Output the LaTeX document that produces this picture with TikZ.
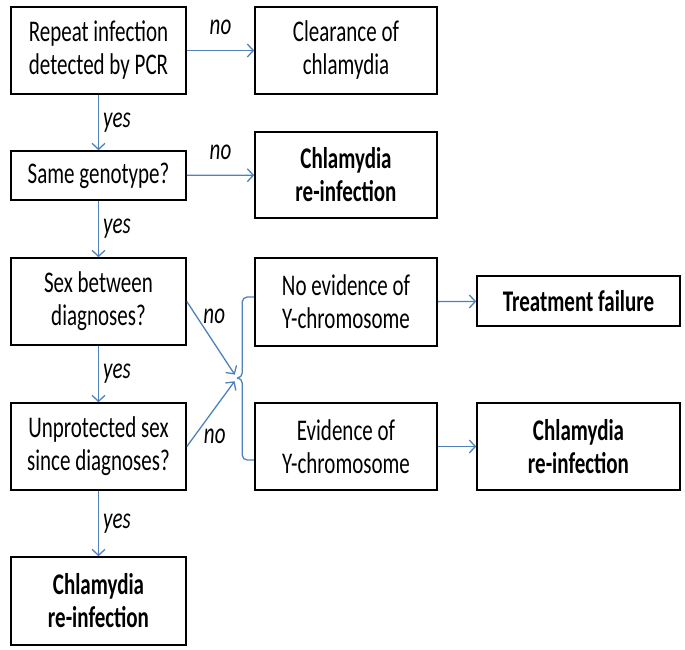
\documentclass[tikz,border=0pt]{standalone}
\usepackage{fontspec}
\setmainfont{Carlito}[FakeStretch=0.70]
\usetikzlibrary{arrows.meta,positioning}
\definecolor{flowblue}{RGB}{79,129,189}

\begin{document}
\begin{tikzpicture}[x=1pt,y=-1pt,
    txt/.style={font=\fontsize{30}{33}\selectfont},
    flow/.style={draw=flowblue,line width=1.3pt,-{Straight Barb[length=6pt,width=13pt]}},
    brace/.style={draw=flowblue,line width=1.3pt,rounded corners=5pt}]

  \useasboundingbox (0,0) rectangle (685,650);

  \begin{scope}[every node/.style={draw,line width=1.6pt,inner sep=0pt,align=center,txt}]
    \node[minimum width=175pt,minimum height=87pt] (repeat) at (98.5,50.5)  {Repeat infection\\detected by PCR};
    \node[minimum width=175pt,minimum height=49pt] (same)   at (98.5,175.5) {Same genotype?};
    \node[minimum width=175pt,minimum height=87pt] (sex)    at (98.5,301.5) {Sex between\\diagnoses?};
    \node[minimum width=175pt,minimum height=87pt] (unprot) at (98.5,446.5) {Unprotected sex\\since diagnoses?};
    \node[minimum width=175pt,minimum height=88pt,font=\fontsize{30}{33}\selectfont\bfseries] (reinfA) at (98.5,601) {Chlamydia\\re-infection};

    \node[minimum width=182pt,minimum height=87pt] (clear)  at (346,50.5)  {Clearance of\\chlamydia};
    \node[minimum width=182pt,minimum height=86pt,font=\fontsize{30}{33}\selectfont\bfseries] (reinfB) at (346,175) {Chlamydia\\re-infection};
    \node[minimum width=182pt,minimum height=88pt] (noev)   at (346,302)   {No evidence of\\Y-chromosome};
    \node[minimum width=182pt,minimum height=87pt] (evid)   at (346,446.5) {Evidence of\\Y-chromosome};

    \node[minimum width=203pt,minimum height=50pt,font=\fontsize{30}{33}\selectfont\bfseries] (fail)   at (578.5,301)   {Treatment failure};
    \node[minimum width=203pt,minimum height=87pt,font=\fontsize{30}{33}\selectfont\bfseries] (reinfC) at (578.5,446.5) {Chlamydia\\re-infection};
  \end{scope}

  \coordinate (tip) at (237,378);

  \path[brace] ([yshift=5pt]noev.west) -- ++(-12,0) |- (tip);
  \path[brace] ([yshift=-13.5pt]evid.west) -- ++(-12,0) |- (tip);

  \begin{scope}[every node/.style={txt,font=\fontsize{30}{33}\selectfont\itshape,inner sep=0pt}]

    \begin{scope}[every edge/.style={flow}]
      \path (repeat) edge node[above=15pt] {no} (clear);
      \path (same)   edge node[above=15pt] {no} (reinfB);
      \path (repeat) edge node[right=4pt] {yes} (same);
      \path (same)   edge node[right=4pt] {yes} (sex);
      \path (sex)    edge node[right=4pt] {yes} (unprot);
      \path (unprot) edge node[right=4pt] {yes} (reinfA);
      \path (sex.east)    edge[shorten >=4pt] node[pos=.2,right=6pt] {no} (tip);
      \path (unprot.east) edge[shorten >=4pt] node[pos=.15,right=9pt] {no} (tip);
      \path (noev)   edge (fail);
      \path (evid)   edge (reinfC);
    \end{scope}
  \end{scope}

\end{tikzpicture}
\end{document}
